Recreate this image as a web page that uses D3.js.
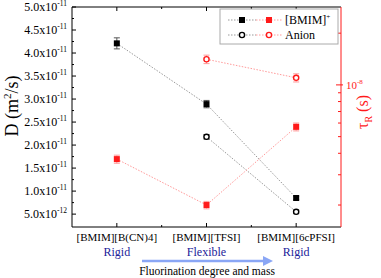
<!DOCTYPE html>
<html>
<head>
<meta charset="utf-8">
<script src="https://cdn.jsdelivr.net/npm/d3@7"></script>
<style>
  body { margin: 0; background: #fff; }
  svg, svg text { font-family: "Liberation Serif", "Times New Roman", Times, serif; }
</style>
</head>
<body>
<svg id="viz" width="381" height="278"></svg>
<script>
// categories along x
const categories = ["[BMIM][B(CN)4]", "[BMIM][TFSI]", "[BMIM][6cPFSI]"];
const rigidity = ["Rigid", "Flexible", "Rigid"];

// diffusion coefficients D (m^2/s), left axis
const dCation = [4.21e-11, 2.89e-11, 0.85e-11];
const dCationErr = [0.12e-11, 0.08e-11, 0.04e-11];
const dAnion = [null, 2.18e-11, 0.55e-11];
const dAnionErr = [null, 0.05e-11, 0.04e-11];

// rotational correlation times tau_R (s), right axis (log)
const tCation = [3.7e-9, 2.0e-9, 5.7e-9];
const tCationErr = [0.2e-9, 0.1e-9, 0.3e-9];
const tAnion = [null, 1.41e-8, 1.1e-8];
const tAnionErr = [null, 0.08e-8, 0.06e-8];

// tick labels
const leftTicks = [0.5e-11, 1.0e-11, 1.5e-11, 2.0e-11, 2.5e-11, 3.0e-11, 3.5e-11, 4.0e-11, 4.5e-11, 5.0e-11];
const leftTickText = ["5.0x10|-12", "1.0x10|-11", "1.5x10|-11", "2.0x10|-11", "2.5x10|-11",
                      "3.0x10|-11", "3.5x10|-11", "4.0x10|-11", "4.5x10|-11", "5.0x10|-11"];
const rightMinor = [2e-9, 3e-9, 4e-9, 5e-9, 6e-9, 7e-9, 8e-9, 9e-9, 2e-8];

const margin = { top: 7, right: 40, bottom: 51, left: 72 };
const width = 381, height = 278;
const red = "#ff1a1a";

const svg = d3.select("#viz");

const x = d3.scaleLinear().domain([0.5, 3.5]).range([margin.left, width - margin.right]);
const yL = d3.scaleLinear().domain([0.22e-11, 5.0e-11]).range([height - margin.bottom, margin.top]);
const yR = d3.scaleLog().domain([1.49e-9, 2.84e-8]).range([height - margin.bottom, margin.top]);

const x0 = margin.left, x1 = width - margin.right;
const y0 = height - margin.bottom, y1 = margin.top;

// frame: left, bottom, top in black
svg.append("line").attr("x1", x0).attr("x2", x0).attr("y1", y1).attr("y2", y0).attr("stroke", "#000");
svg.append("line").attr("x1", x0).attr("x2", x1).attr("y1", y0).attr("y2", y0).attr("stroke", "#000");
svg.append("line").attr("x1", x0).attr("x2", x1).attr("y1", y1).attr("y2", y1).attr("stroke", "#000");

// x ticks (major at categories, minor in between) bottom + top
const xMajor = [1, 2, 3];
const xMinor = [1.5, 2.5];
const xt = svg.append("g");
xMajor.forEach(v => {
  xt.append("line").attr("x1", x(v)).attr("x2", x(v)).attr("y1", y0).attr("y2", y0 - 4).attr("stroke", "#000");
  xt.append("line").attr("x1", x(v)).attr("x2", x(v)).attr("y1", y1).attr("y2", y1 + 4).attr("stroke", "#000");
});
xMinor.forEach(v => {
  xt.append("line").attr("x1", x(v)).attr("x2", x(v)).attr("y1", y0).attr("y2", y0 - 2).attr("stroke", "#000");
  xt.append("line").attr("x1", x(v)).attr("x2", x(v)).attr("y1", y1).attr("y2", y1 + 2).attr("stroke", "#000");
});

// category labels
svg.append("g").selectAll("text").data(categories).join("text")
  .attr("x", (d, i) => x(i + 1)).attr("y", y0 + 14)
  .attr("text-anchor", "middle").attr("font-size", 11).text(d => d);
svg.append("g").selectAll("text").data(rigidity).join("text")
  .attr("x", (d, i) => x(i + 1)).attr("y", y0 + 29)
  .attr("text-anchor", "middle").attr("font-size", 12).attr("fill", "#22229a").text(d => d);

// left y ticks
const lt = svg.append("g");
d3.range(0.5e-11, 5.01e-11, 0.25e-11).forEach((v, i) => {
  const major = i % 2 === 0;
  lt.append("line").attr("x1", x0).attr("x2", x0 + (major ? 4 : 2))
    .attr("y1", yL(v)).attr("y2", yL(v)).attr("stroke", "#000");
});
leftTicks.forEach((v, i) => {
  const [base, exp] = leftTickText[i].split("|");
  const t = lt.append("text").attr("x", x0 - 5).attr("y", yL(v) + 4)
    .attr("text-anchor", "end").attr("font-size", 12);
  t.append("tspan").text(base);
  t.append("tspan").attr("dy", -5).attr("font-size", 7.5).text(exp);
});

// right axis (red, log)
const rt = svg.append("g");
rt.append("line").attr("x1", x1).attr("x2", x1).attr("y1", y1).attr("y2", y0).attr("stroke", red);
rightMinor.forEach(v => {
  rt.append("line").attr("x1", x1 - 3).attr("x2", x1).attr("y1", yR(v)).attr("y2", yR(v)).attr("stroke", red);
});
rt.append("line").attr("x1", x1 - 5).attr("x2", x1 + 2).attr("y1", yR(1e-8)).attr("y2", yR(1e-8)).attr("stroke", red);
const rl = rt.append("text").attr("x", x1 + 5).attr("y", yR(1e-8) + 4)
  .attr("font-size", 11).attr("fill", red);
rl.append("tspan").text("10");
rl.append("tspan").attr("dy", -5).attr("font-size", 7).text("-8");

// axis titles
const lTitle = svg.append("text").attr("transform", "translate(18,106) rotate(-90)")
  .attr("text-anchor", "middle").attr("font-size", 18);
lTitle.append("tspan").text("D (m");
lTitle.append("tspan").attr("dy", -7).attr("font-size", 11).text("2");
lTitle.append("tspan").attr("dy", 7).text("/s)");

const rTitle = svg.append("text").attr("transform", "translate(368,112) rotate(-90)")
  .attr("text-anchor", "middle").attr("font-size", 16).attr("fill", red);
rTitle.append("tspan").text("τ");
rTitle.append("tspan").attr("dy", 4).attr("font-size", 10).text("R");
rTitle.append("tspan").attr("dy", -4).text(" (s)");

// series drawing helper
function drawSeries(vals, errs, yScale, color, lineColor, errColor, shape) {
  const pts = vals.map((v, i) => ({ i: i + 1, v, e: errs[i] })).filter(d => d.v !== null);
  const g = svg.append("g");
  g.append("path").datum(pts)
    .attr("d", d3.line().x(d => x(d.i)).y(d => yScale(d.v)))
    .attr("fill", "none").attr("stroke", lineColor).attr("stroke-width", 1)
    .attr("stroke-dasharray", "1.5,1.5");
  pts.forEach(d => {
    const ya = yScale(d.v + d.e), yb = yScale(d.v - d.e), cx = x(d.i);
    g.append("line").attr("x1", cx).attr("x2", cx).attr("y1", ya).attr("y2", yb).attr("stroke", errColor);
    g.append("line").attr("x1", cx - 3).attr("x2", cx + 3).attr("y1", ya).attr("y2", ya).attr("stroke", errColor);
    g.append("line").attr("x1", cx - 3).attr("x2", cx + 3).attr("y1", yb).attr("y2", yb).attr("stroke", errColor);
  });
  pts.forEach(d => drawMarker(g, x(d.i), yScale(d.v), color, shape));
}

function drawMarker(g, cx, cy, color, shape) {
  if (shape === "square") {
    g.append("rect").attr("x", cx - 3).attr("y", cy - 3).attr("width", 6).attr("height", 6).attr("fill", color);
  } else {
    g.append("circle").attr("cx", cx).attr("cy", cy).attr("r", 2.6)
      .attr("fill", "#fff").attr("stroke", color).attr("stroke-width", 1.4);
  }
}

drawSeries(dCation, dCationErr, yL, "#000", "#999", "#555", "square");
drawSeries(dAnion, dAnionErr, yL, "#000", "#999", "#555", "circle");
drawSeries(tCation, tCationErr, yR, red, "#ff9a9a", "#ff9a9a", "square");
drawSeries(tAnion, tAnionErr, yR, red, "#ff9a9a", "#ff9a9a", "circle");

// legend
const lg = svg.append("g");
lg.append("rect").attr("x", 220).attr("y", 9).attr("width", 118).attr("height", 35)
  .attr("fill", "#fff").attr("stroke", "#aaa");
const legendItems = [
  { label: "[BMIM]", sup: "+", shape: "square", y: 20 },
  { label: "Anion", sup: "", shape: "circle", y: 35 }
];
legendItems.forEach(it => {
  lg.append("line").attr("x1", 228).attr("x2", 256).attr("y1", it.y).attr("y2", it.y)
    .attr("stroke", "#999").attr("stroke-dasharray", "1.5,1.5");
  lg.append("line").attr("x1", 256).attr("x2", 282).attr("y1", it.y).attr("y2", it.y)
    .attr("stroke", "#ff9a9a").attr("stroke-dasharray", "1.5,1.5");
  drawMarker(lg, 242, it.y, "#000", it.shape);
  drawMarker(lg, 269, it.y, red, it.shape);
  const t = lg.append("text").attr("x", 285).attr("y", it.y + 4).attr("font-size", 12);
  t.append("tspan").text(it.label);
  if (it.sup) t.append("tspan").attr("dy", -5).attr("font-size", 7).text(it.sup);
});

// arrow and caption
const defs = svg.append("defs");
defs.append("marker").attr("id", "ah").attr("viewBox", "0 0 10 10")
  .attr("refX", 5).attr("refY", 5).attr("markerWidth", 4).attr("markerHeight", 4)
  .attr("orient", "auto")
  .append("path").attr("d", "M0,0 L10,5 L0,10 Z").attr("fill", "#8aa6f5");
svg.append("line").attr("x1", 142).attr("x2", 268).attr("y1", 261).attr("y2", 261)
  .attr("stroke", "#8aa6f5").attr("stroke-width", 2.5).attr("marker-end", "url(#ah)");
svg.append("text").attr("x", 207).attr("y", 275).attr("text-anchor", "middle")
  .attr("font-size", 11.5).text("Fluorination degree and mass");
</script>
</body>
</html>
